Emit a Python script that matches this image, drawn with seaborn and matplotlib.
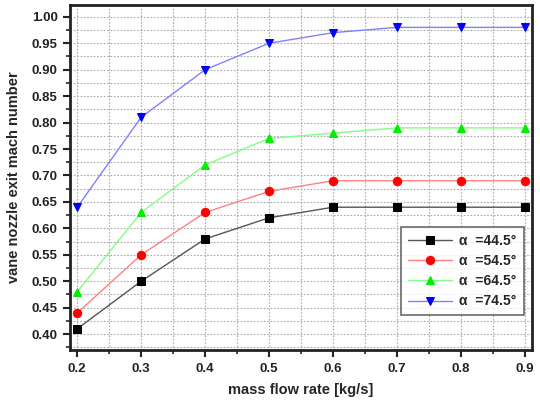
import numpy as np
import pandas as pd
import matplotlib
matplotlib.use("Agg")
import matplotlib.pyplot as plt
from matplotlib.ticker import MultipleLocator
import seaborn as sns

# data
flow = [0.2, 0.3, 0.4, 0.5, 0.6, 0.7, 0.8, 0.9]
mach_445 = [0.41, 0.50, 0.58, 0.62, 0.64, 0.64, 0.64, 0.64]
mach_545 = [0.44, 0.55, 0.63, 0.67, 0.69, 0.69, 0.69, 0.69]
mach_645 = [0.48, 0.63, 0.72, 0.77, 0.78, 0.79, 0.79, 0.79]
mach_745 = [0.64, 0.81, 0.90, 0.95, 0.97, 0.98, 0.98, 0.98]
labels = ["α  =44.5°", "α  =54.5°", "α  =64.5°", "α  =74.5°"]

series = [mach_445, mach_545, mach_645, mach_745]
df = pd.concat([pd.DataFrame({"flow": flow, "mach": s, "case": lab})
                for s, lab in zip(series, labels)])

sns.set_style("ticks")
plt.rcParams["font.family"] = ["Liberation Sans", "DejaVu Sans"]
plt.rcParams["font.weight"] = "bold"

fig = plt.figure(figsize=(5.4, 4.03), dpi=100)
ax = fig.add_axes([0.13, 0.1315, 0.855, 0.857])

line_cols = ["#555555", "#ff8080", "#80ff80", "#8080ff"]
mark_cols = ["black", "red", "#00ee00", "blue"]
markers = ["s", "o", "^", "v"]

for lab, lc, mc, mk in zip(labels, line_cols, mark_cols, markers):
    sub = df[df["case"] == lab]
    sns.lineplot(data=sub, x="flow", y="mach", ax=ax, color=lc, lw=1.0,
                 marker=mk, markersize=6, markerfacecolor=mc,
                 markeredgecolor=mc, label=lab)

ax.set_xlim(0.189, 0.911)
ax.set_ylim(0.37, 1.023)
ax.xaxis.set_major_locator(MultipleLocator(0.1))
ax.xaxis.set_minor_locator(MultipleLocator(0.05))
ax.yaxis.set_major_locator(MultipleLocator(0.05))
ax.yaxis.set_minor_locator(MultipleLocator(0.025))
ax.xaxis.set_major_formatter(matplotlib.ticker.FormatStrFormatter("%.1f"))
ax.yaxis.set_major_formatter(matplotlib.ticker.FormatStrFormatter("%.2f"))

ax.grid(which="both", color="#aaaaaa", linestyle=(0, (1.5, 1.5)), lw=0.8)
ax.set_axisbelow(True)
for sp in ax.spines.values():
    sp.set_linewidth(2)
    sp.set_color("#222222")

ax.tick_params(which="major", direction="out", length=5, width=1.5,
               labelsize=9.5, colors="#222222", pad=4)
ax.tick_params(which="minor", direction="out", length=3, width=1.2)
for t in ax.get_xticklabels() + ax.get_yticklabels():
    t.set_fontweight("bold")

ax.set_xlabel("mass flow rate [kg/s]", fontsize=10.5, fontweight="bold",
              labelpad=6)
ax.set_ylabel("vane nozzle exit mach number", fontsize=10.5,
              fontweight="bold", labelpad=8)

leg = ax.legend(loc="lower right", bbox_to_anchor=(0.997, 0.08),
                fontsize=10, frameon=True, fancybox=False,
                handlelength=3.2, borderpad=0.5, labelspacing=0.45,
                handletextpad=0.5)
leg.get_frame().set_edgecolor("#444444")
leg.get_frame().set_linewidth(1.2)
for t in leg.get_texts():
    t.set_fontweight("bold")

fig.savefig("out.png", dpi=100)
